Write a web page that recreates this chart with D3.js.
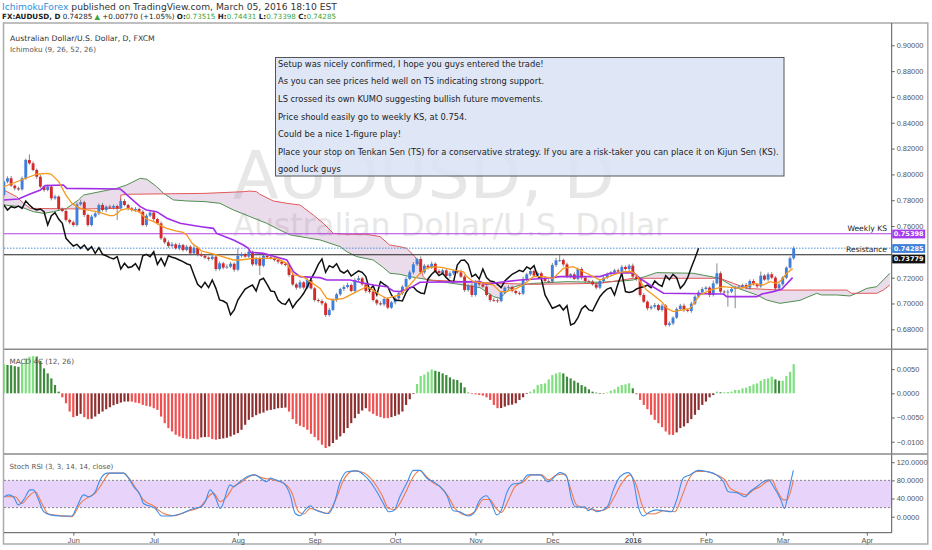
<!DOCTYPE html>
<html><head><meta charset="utf-8">
<script src="https://cdn.jsdelivr.net/npm/d3@7/dist/d3.min.js"></script>
<style>
body{margin:0;background:#fff;}
svg{display:block;}
text{font-family:"DejaVu Sans",Verdana,sans-serif;}
.ax text{font-family:"Liberation Sans",Arial,sans-serif;}
</style></head>
<body><svg id="chart" width="932" height="550"></svg>
<script>
// ---------------- DATA ----------------
const calendarStart = "2015-05-04";
const holidays = ["2015-12-25","2016-01-01"];
const firstBar = 1;
const firstOpen = 0.7840;
const closes = [
0.7944,0.7970,0.7913,0.7892,0.7884,0.7970,0.8112,0.8086,0.8034,0.7982,
0.7905,0.7879,0.7905,0.7815,0.7828,0.7732,0.7717,0.7647,0.7629,0.7608,
0.7768,0.7784,0.7686,0.7608,0.7673,0.7698,0.7763,0.7724,0.7750,0.7742,
0.7755,0.7737,0.7794,0.7763,0.7737,0.7724,0.7732,0.7711,0.7608,0.7680,
0.7704,0.7654,0.7621,0.7505,0.7474,0.7445,0.7458,0.7427,0.7453,0.7414,
0.7440,0.7388,0.7432,0.7381,0.7370,0.7355,0.7345,0.7363,0.7267,0.7311,
0.7278,0.7285,0.7308,0.7262,0.7370,0.7381,0.7363,0.7401,0.7303,0.7350,
0.7293,0.7370,0.7358,0.7350,0.7337,0.7324,0.7308,0.7298,0.7221,0.7148,
0.7123,0.7164,0.7123,0.7182,0.7117,0.7027,0.7019,0.7001,0.6911,0.6950,
0.7027,0.7071,0.7112,0.7128,0.7143,0.7097,0.7182,0.7195,0.7148,0.7097,
0.7092,0.7027,0.7001,0.6993,0.7035,0.6968,0.7009,0.7040,0.7079,0.7130,
0.7190,0.7241,0.7303,0.7345,0.7241,0.7293,0.7278,0.7308,0.7252,0.7236,
0.7257,0.7213,0.7234,0.7252,0.7241,0.7208,0.7104,0.7138,0.7066,0.7169,
0.7148,0.7130,0.7066,0.7027,0.7024,0.7019,0.7086,0.7123,0.7128,0.7097,
0.7081,0.7076,0.7190,0.7226,0.7252,0.7216,0.7234,0.7200,0.7174,0.7169,
0.7298,0.7334,0.7337,0.7303,0.7208,0.7226,0.7190,0.7267,0.7200,0.7174,
0.7169,0.7148,0.7123,0.7174,0.7200,0.7226,0.7241,0.7257,0.7247,0.7283,
0.7267,0.7293,0.7208,0.7190,0.7066,0.7014,0.6963,0.6975,0.6988,0.6950,
0.6983,0.6833,0.6846,0.6890,0.6957,0.6983,0.6950,0.6942,0.6999,0.7053,
0.7086,0.7112,0.7123,0.7066,0.7156,0.7234,0.7092,0.7086,0.7092,0.7112,
0.7123,0.7130,0.7143,0.7123,0.7174,0.7148,0.7133,0.7216,0.7185,0.7226,
0.7200,0.7117,0.7148,0.7200,0.7278,0.7350,0.74285];
const upperWickPips = [
12,15,18,10,12,14,10,43,15,12, 14,10,16,12,15,10,12,14,10,12,
15,20,12,10,14,18,12,16,10,14, 12,10,18,14,10,12,15,10,12,14,
16,12,10,14,12,15,18,12,16,10, 14,12,18,10,15,12,10,16,12,14,
12,18,14,10,57,15,12,14,10,12, 14,10,16,12,10,14,12,10,12,15,
12,16,10,14,12,10,12,14,12,16, 14,12,10,16,18,12,14,20,12,10,
12,14,10,16,12,14,10,12,15,12, 14,16,18,12,20,14,12,16,10,12,
14,10,16,12,10,22,14,12,16,10, 12,14,10,12,16,14,12,10,14,12,
10,14,18,12,16,10,14,12,10,14, 16,20,44,12,14,10,16,12,14,10,
12,14,10,16,12,14,10,12,14,16, 12,14,16,10,12,14,10,12,16,10,
14,12,16,10,12,14,16,10,14,12, 16,14,12,10,22,77,14,12,16,10,
12,14,10,16,12,14,10,31,12,14, 16,12,14,12,10,14,15];
const lowerWickPips = [
14,12,10,15,12,10,14,12,10,16, 12,14,10,16,12,14,10,12,15,14,
12,10,16,14,12,10,14,12,16,10, 14,90,12,10,16,12,14,12,10,14,
12,16,10,12,14,16,12,10,14,12, 10,14,12,16,10,12,14,10,16,12,
14,10,12,16,12,14,10,12,14,12, 72,12,14,10,12,16,12,10,14,12,
16,10,14,12,10,14,12,16,15,12, 10,14,12,16,12,10,14,12,10,16,
14,12,16,10,14,12,10,16,12,14, 12,10,14,12,16,12,14,10,12,14,
10,12,16,14,12,10,14,12,16,12, 14,10,12,16,12,14,10,12,16,12,
14,12,10,16,12,14,10,12,14,12, 10,14,12,16,12,14,10,12,14,16,
12,10,14,12,16,10,14,12,10,14, 12,16,10,14,12,10,16,12,14,10,
12,13,12,14,10,12,16,10,14,12, 10,14,12,16,12,10,14,12,110,12,
148,10,14,12,16,10,14,12,10,14, 12,16,10,14,12,10,12];

// Ichimoku lines: [bar, price]
const tenkan = [[1,0.7905],[7,0.7970],[10,0.8001],[13,0.8008],[14,0.8001],[16,0.7944],[18,0.7840],[19.6,0.7776],[21,0.7750],[22,0.7737],[24,0.7724],[26.5,0.7711],[28,0.7698],[30,0.7680],[31,0.7680],[32,0.7698],[33,0.7724],[35,0.7737],[37,0.7717],[38,0.7711],[40,0.7654],[42,0.7634],[44,0.7603],[45.5,0.7582],[48,0.7562],[50,0.7551],[51,0.7531],[52.5,0.7466],[54.5,0.7422],[55,0.7407],[59.2,0.7376],[63.8,0.7337],[65.6,0.7337],[69.2,0.7350],[75.6,0.7350],[78.4,0.7311],[80.2,0.7221],[82.9,0.7208],[84.7,0.7169],[87.5,0.7117],[89.3,0.7040],[91.1,0.7027],[93.9,0.7040],[97.5,0.7092],[100.2,0.7130],[102,0.7104],[103.9,0.7066],[105.7,0.7040],[109.3,0.7066],[112,0.7143],[114.8,0.7234],[116.6,0.7272],[118.5,0.7285],[121.2,0.7278],[123.9,0.7259],[126.7,0.7246],[127.6,0.7208],[129.4,0.7169],[133,0.7156],[134.9,0.7143],[136.7,0.7092],[138.5,0.7092],[141.2,0.7117],[143,0.7143],[145.8,0.7208],[148.5,0.7208],[151.3,0.7195],[154,0.7272],[156.7,0.7285],[159.5,0.7246],[162.2,0.7208],[164,0.7182],[167.7,0.7221],[170.4,0.7246],[172.7,0.7246],[174.1,0.7221],[175,0.7169],[176.8,0.7104],[178.6,0.7066],[180.9,0.7014],[182.3,0.6963],[184.1,0.6937],[186.8,0.6950],[188.7,0.6963],[190,0.7014],[191.4,0.7066],[194.1,0.7104],[197.8,0.7130],[202.3,0.7117],[204.2,0.7130],[206,0.7156],[208.7,0.7143],[210.5,0.7169],[212.4,0.7156],[213.7,0.7182],[215.1,0.7234],[216.7,0.7270]];
const kijun = [[1,0.7802],[5,0.7809],[8,0.7846],[11,0.7879],[12.3,0.7913],[17.3,0.7918],[18.2,0.7892],[32.8,0.7887],[33.7,0.7866],[35.5,0.7820],[38.3,0.7750],[40,0.7724],[42.8,0.7711],[45.6,0.7660],[49.2,0.7621],[52,0.7608],[55,0.7595],[58.3,0.7582],[59.2,0.7543],[63.8,0.7492],[66.5,0.7453],[67.9,0.7427],[68.5,0.7396],[72,0.7388],[78.4,0.7337],[80.2,0.7246],[82,0.7208],[87.5,0.7200],[89.3,0.7182],[95.7,0.7182],[98.4,0.7164],[102,0.7143],[105.7,0.7130],[107.5,0.7097],[109.3,0.7092],[112,0.7117],[114.8,0.7164],[131.2,0.7169],[133,0.7148],[136.7,0.7164],[142.2,0.7182],[149.4,0.7195],[153.1,0.7208],[164,0.7208],[166.8,0.7234],[173.2,0.7239],[175,0.7195],[177.7,0.7143],[181.4,0.7079],[197.8,0.7073],[198.7,0.7053],[206.9,0.7053],[208.3,0.7073],[211.4,0.7092],[213.7,0.7110],[216.7,0.7200]];
const senkouA = [[1,0.7763],[5.5,0.7750],[9.1,0.7711],[11.9,0.7698],[14.6,0.7711],[18.2,0.7737],[21.4,0.7802],[22.8,0.7840],[27.3,0.7866],[31.9,0.7892],[34.6,0.7918],[38.3,0.7970],[40.1,0.7962],[42.8,0.7905],[44.7,0.7853],[47.4,0.7802],[51,0.7794],[56,0.7789],[60.1,0.7776],[63.8,0.7724],[68.3,0.7673],[72.9,0.7621],[76.5,0.7569],[79.3,0.7531],[82,0.7518],[87.5,0.7492],[93,0.7440],[94.8,0.7401],[97.5,0.7363],[102,0.7337],[104.8,0.7278],[106.6,0.7234],[109.3,0.7226],[112,0.7208],[114.8,0.7195],[120.3,0.7169],[125.7,0.7148],[131.2,0.7123],[134.9,0.7053],[136.7,0.7040],[137.6,0.7066],[139.4,0.7117],[142.2,0.7143],[145.8,0.7156],[155,0.7169],[164,0.7164],[170,0.7174],[173.1,0.7182],[176.3,0.7208],[179.5,0.7239],[189.5,0.7234],[196.8,0.7195],[200.5,0.7130],[206.9,0.7066],[209.6,0.7027],[213.2,0.7001],[218.7,0.7024],[223.3,0.7079],[224.6,0.7066],[228.8,0.7066],[232.4,0.7058],[234.2,0.7079],[237,0.7117],[239.7,0.7130],[243.3,0.7234]];
const senkouB = [[1,0.7879],[4.5,0.7827],[6.4,0.7776],[8.2,0.7737],[21.9,0.7732],[32.8,0.7737],[33,0.7840],[35,0.7846],[56,0.7853],[66.5,0.7866],[68.3,0.7871],[70.1,0.7866],[71,0.7846],[74.7,0.7794],[78.4,0.7776],[82,0.7763],[85.6,0.7686],[88.4,0.7621],[91.1,0.7543],[94.8,0.7536],[100.2,0.7536],[103.9,0.7518],[106.5,0.7453],[109.3,0.7440],[111.2,0.7427],[113.4,0.7363],[114.8,0.7298],[115.7,0.7208],[116.6,0.7182],[127.6,0.7169],[136.7,0.7156],[145.8,0.7148],[164,0.7156],[173.1,0.7195],[196.8,0.7195],[200.5,0.7156],[204.1,0.7117],[213.2,0.7104],[231.5,0.7104],[232.8,0.7079],[239.7,0.7079],[241.5,0.7104],[243.3,0.7143]];
const chikouShift = 26;
const weeklyKS = 0.75398, resistance = 0.73779, lastPrice = 0.74285;

// MACD 4C histogram, bars 1..217
const macdHist = [
0.00600,0.00585,0.00580,0.00560,0.00548,0.00617,0.00719,0.00754,0.00767,0.00760,
0.00671,0.00514,0.00411,0.00308,0.00171,0.00034,-0.00082,-0.00206,-0.00377,-0.00493,
-0.00466,-0.00425,-0.00493,-0.00534,-0.00527,-0.00480,-0.00425,-0.00377,-0.00329,-0.00288,
-0.00247,-0.00219,-0.00192,-0.00171,-0.00170,-0.00171,-0.00192,-0.00206,-0.00240,-0.00260,
-0.00274,-0.00308,-0.00343,-0.00480,-0.00617,-0.00719,-0.00788,-0.00856,-0.00891,-0.00925,
-0.00938,-0.00945,-0.00945,-0.00952,-0.00911,-0.00904,-0.00904,-0.00945,-0.00959,-0.00945,
-0.00932,-0.00918,-0.00891,-0.00856,-0.00822,-0.00754,-0.00651,-0.00548,-0.00493,-0.00452,
-0.00418,-0.00397,-0.00356,-0.00343,-0.00329,-0.00308,-0.00301,-0.00295,-0.00377,-0.00534,
-0.00630,-0.00671,-0.00699,-0.00754,-0.00836,-0.00904,-0.00973,-0.01062,-0.01130,-0.01096,
-0.01028,-0.00959,-0.00891,-0.00822,-0.00719,-0.00617,-0.00514,-0.00425,-0.00356,-0.00308,
-0.00377,-0.00425,-0.00466,-0.00493,-0.00514,-0.00514,-0.00493,-0.00466,-0.00438,-0.00377,
-0.00240,-0.00123,-0.00014,0.00192,0.00356,0.00390,0.00445,0.00493,0.00466,0.00445,
0.00411,0.00377,0.00329,0.00288,0.00274,0.00219,0.00123,0.00014,-0.00014,-0.00021,
-0.00034,-0.00048,-0.00082,-0.00137,-0.00240,-0.00308,-0.00305,-0.00274,-0.00247,-0.00233,
-0.00206,-0.00137,-0.00082,-0.00014,0.00034,0.00082,0.00171,0.00192,0.00206,0.00288,
0.00377,0.00411,0.00432,0.00411,0.00343,0.00308,0.00260,0.00219,0.00171,0.00137,
0.00082,0.00034,0.00014,0.00004,-0.00003,0.00014,0.00055,0.00082,0.00137,0.00171,
0.00185,0.00206,0.00103,-0.00020,-0.00137,-0.00240,-0.00329,-0.00445,-0.00548,-0.00617,
-0.00699,-0.00788,-0.00856,-0.00860,-0.00808,-0.00719,-0.00685,-0.00617,-0.00534,-0.00445,
-0.00343,-0.00240,-0.00171,-0.00082,-0.00034,0.00034,0.00021,0.00021,0.00027,0.00034,
0.00069,0.00070,0.00103,0.00116,0.00151,0.00185,0.00206,0.00260,0.00295,0.00308,
0.00343,0.00288,0.00260,0.00260,0.00356,0.00445,0.00603];

// Stoch RSI: [bar, value]
const stochK = [[1.1,44],[2.3,48],[3.6,44],[5,26],[6.4,37],[8.2,59],[9.1,59],[10.5,37],[11.9,11],[13.7,4],[16.4,1.5],[19.6,1.5],[21,22],[22.8,48],[24.2,44],[26,55],[27.3,81],[29.2,96],[33.7,96],[35.1,85],[36.5,66],[38.3,48],[39.2,29],[40.6,24],[42.4,18],[44.2,1.5],[46.5,1.5],[49.2,6],[52.9,18],[54.7,21],[56.1,33],[57.4,59],[58.8,44],[60.2,18],[62.9,70],[63.8,66],[65.6,77],[67.5,88],[69.7,92],[71.1,85],[72.9,77],[73.8,85],[75.7,80],[77.5,74],[79.3,48],[80.7,7],[82,2],[83.4,15],[84.8,24],[86.1,15],[87.5,11],[89.8,7],[91.2,26],[93,77],[94.8,99],[97.6,101],[99.4,92],[101.2,77],[103,55],[104.8,29],[106.2,11],[107.6,13],[109.3,44],[111.2,74],[113,102],[114.8,102],[116.6,85],[118.5,77],[120.3,66],[122.1,48],[123.9,13],[125.7,11],[128,1.5],[129.4,7],[131.2,37],[133,46],[134.4,29],[135.8,4],[137.1,15],[138.5,52],[140.3,72],[142.2,74],[144.4,92],[147.6,92],[149.9,77],[153.1,97],[154.9,88],[156.3,37],[157.2,22],[159,21],[159.9,22],[160.8,13],[161.8,18],[163.1,11],[164.9,15],[166.3,26],[167.7,59],[169.5,88],[171.8,97],[173.1,81],[174.5,22],[175.9,1.5],[177.7,11],[179.5,15],[181.4,13],[183.6,11],[185,37],[186.8,85],[188.6,92],[190.9,102],[193.2,99.5],[195.9,92],[197.8,77],[199.1,55],[201.4,53],[203.7,44],[205,55],[206.9,66],[208.7,77],[210.1,81],[211.5,66],[213.5,37],[214.5,18],[215.5,52],[216.9,102]];
const stochD = [[1.1,44],[2.3,44],[4.1,44],[5.9,29],[7.7,44],[9.6,55],[11.4,29],[13.2,6],[16.4,2.2],[19.6,0],[21.9,29],[23.7,41],[26,52],[27.3,66],[30.1,96],[33.7,96],[35.6,81],[37.4,59],[39.2,37],[41.9,24],[44.7,7],[47.4,2.2],[51,11],[54.7,22],[58.3,52],[60.2,33],[62,44],[63.8,66],[65.6,74],[69.3,92],[72,85],[74.7,81],[77.5,74],[79.8,52],[81.6,11],[83,6],[84.8,18],[86.1,16],[89.3,7],[92.1,44],[93.9,81],[96.7,101],[99.4,97],[102.1,77],[104.4,48],[106.2,18],[108,16],[109.3,29],[111.2,59],[113,88],[114.8,101.7],[116.6,88],[118.5,74],[120.3,66],[122.6,44],[124.4,18],[127.6,3.7],[129.8,11],[132.1,38],[133.9,38],[135.3,22],[137.1,9.6],[139,37],[140.8,66],[143.1,77],[145.4,92],[148.1,92],[149.9,81],[152.2,92],[154.5,94],[155.8,66],[157.6,26],[160.4,18],[162.2,15],[164,13],[165.9,18],[167.7,40],[170,74],[172.2,92],[174.1,66],[175.4,29],[176.8,7],[178.6,6],[181.4,13],[184.5,11],[186.4,44],[188.2,81],[190.5,99.5],[192.8,99.5],[195.9,92],[198.2,81],[199.6,63],[201.4,55],[204.1,48],[206,59],[207.8,66],[209.6,77],[211,81],[212.4,59],[214.2,37],[215.1,37],[216.9,80]];

const priceTicks = [0.68,0.70,0.72,0.76,0.78,0.80,0.82,0.84,0.86,0.88,0.90];
const macdTicks = [-0.01,-0.005,0,0.005];
const stochTicks = [0,40,80,120];
const stochBands = [20,80];
const monthNames = ["Jan","Feb","Mar","Apr","May","Jun","Jul","Aug","Sep","Oct","Nov","Dec"];
const notes = [
"Setup was nicely confirmed, I hope you guys entered the trade!",
"As you can see prices held well on TS indicating strong support.",
"LS crossed its own KUMO suggesting bullish future movements.",
"Price should easily go to weekly KS, at 0.754.",
"Could be a nice 1-figure play!",
"Place your stop on Tenkan Sen (TS) for a conservative strategy. If you are a risk-taker you can place it on Kijun Sen (KS).",
"good luck guys"];

// ---------------- LAYOUT ----------------
const svg = d3.select("#chart");
const L = 4, R = 891.7, TOP = 23, MAIN_B = 349.3, MACD_B = 454, ST_B = 532.7;

// trading calendar
const days = [];
{ let d = new Date(calendarStart + "T12:00:00");
  while (days.length < 260) {
    const wd = d.getDay(); const key = d3.timeFormat("%Y-%m-%d")(d);
    if (wd !== 0 && wd !== 6 && !holidays.includes(key)) days.push(new Date(d));
    d.setDate(d.getDate() + 1);
  } }

const x = d3.scaleLinear().domain([1.05, 243.8]).range([L, R]);
const yP = d3.scaleLinear().domain([0.68, 0.90]).range([329.3, 45.3]);
const yM = d3.scaleLinear().domain([-0.01, 0.005]).range([441.7, 369.1]);
const yS = d3.scaleLinear().domain([0, 120]).range([516.7, 462.2]);

const defs = svg.append("defs");
function clip(id, y0, y1){ defs.append("clipPath").attr("id", id).append("rect").attr("x", L).attr("y", y0).attr("width", R - L).attr("height", y1 - y0); }
clip("cMain", TOP, MAIN_B); clip("cMacd", MAIN_B, MACD_B); clip("cSt", MACD_B, ST_B);

// header
const h1 = svg.append("text").attr("x", 2).attr("y", 9.5).attr("font-size", 10);
h1.append("tspan").attr("fill", "#2a8fe0").text("IchimokuForex");
h1.append("tspan").attr("fill", "#333").text(" published on TradingView.com, March 05, 2016 18:10 EST");
const h2 = svg.append("text").attr("x", 2).attr("y", 18.8).attr("font-size", 10).attr("fill", "#222");
const g = "#3aa53a";
[["FX:AUDUSD, D", "#222", "bold"], [" 0.74285 ", "#222", "normal"], ["\u25B2", g, "normal"], [" +0.00770 (+1.05%) ", "#222", "normal"],
 ["O:", "#222", "bold"], ["0.73515", g, "normal"], [" H:", "#222", "bold"], ["0.74431", g, "normal"],
 [" L:", "#222", "bold"], ["0.73398", g, "normal"], [" C:", "#222", "bold"], ["0.74285", g, "normal"]]
 .forEach(([t, c, w]) => h2.append("tspan").attr("fill", c).attr("font-weight", w).text(t));
function fit(sel, width){ const w = sel.node().getComputedTextLength(); const fs = parseFloat(sel.attr("font-size")); sel.attr("font-size", (fs * width / w).toFixed(2)); }
fit(h1, 335); fit(h2, 334);

// frame
svg.append("rect").attr("x", 3.5).attr("y", 23).attr("width", 924.3).attr("height", 521).attr("fill", "none").attr("stroke", "#ababab").attr("stroke-width", 1.5);

// watermark
const wm1 = svg.append("text").attr("x", 233).attr("y", 198).attr("font-size", 70).attr("fill", "#e7e7e7").attr("font-family", "Liberation Sans, Arial").text("AUDUSD, D");
fit(wm1, 382);
const wm2 = svg.append("text").attr("x", 233).attr("y", 236).attr("font-size", 35).attr("fill", "#e7e7e7").attr("font-family", "Liberation Sans, Arial").text("Australian Dollar/U.S. Dollar");
fit(wm2, 435);

// ---------------- MAIN PANE ----------------
const main = svg.append("g").attr("clip-path", "url(#cMain)");
const lineP = d3.line().x(d => x(d[0])).y(d => yP(d[1]));
// cloud
const cloudPoly = senkouA.concat(senkouB.slice().reverse());
main.append("path").attr("d", lineP(cloudPoly) + "Z").attr("fill", "rgba(178,118,178,0.26)").attr("stroke", "none");
main.append("path").attr("d", lineP(senkouA)).attr("fill", "none").attr("stroke", "#4f8f4f").attr("stroke-width", 1);
main.append("path").attr("d", lineP(senkouB)).attr("fill", "none").attr("stroke", "#e05a5a").attr("stroke-width", 1);

// horizontal levels
main.append("line").attr("x1", L).attr("x2", R).attr("y1", yP(weeklyKS)).attr("y2", yP(weeklyKS)).attr("stroke", "#b13fe6").attr("stroke-width", 1.1);
main.append("line").attr("x1", L).attr("x2", R).attr("y1", yP(lastPrice)).attr("y2", yP(lastPrice)).attr("stroke", "#4d8fdc").attr("stroke-width", 1).attr("stroke-dasharray", "1.5,1.5");
main.append("line").attr("x1", L).attr("x2", R).attr("y1", yP(resistance)).attr("y2", yP(resistance)).attr("stroke", "#222").attr("stroke-width", 1.1);
svg.append("text").attr("x", 887).attr("y", yP(weeklyKS) - 2.5).attr("text-anchor", "end").attr("font-size", 7.6).attr("fill", "#222").text("Weekly KS");
svg.append("text").attr("x", 887).attr("y", yP(resistance) - 2.3).attr("text-anchor", "end").attr("font-size", 7.6).attr("fill", "#222").text("Resistance");

// candles
const bars = closes.map((c, k) => {
  const o = k === 0 ? firstOpen : closes[k - 1];
  return { i: k + firstBar, o, c, hi: Math.max(o, c) + upperWickPips[k] * 1e-4, lo: Math.min(o, c) - lowerWickPips[k] * 1e-4 };
});
const cg = main.append("g");
cg.selectAll("line.w").data(bars).join("line").attr("class", "w")
  .attr("x1", d => x(d.i)).attr("x2", d => x(d.i)).attr("y1", d => yP(d.hi)).attr("y2", d => yP(d.lo))
  .attr("stroke", "#6a6a6a").attr("stroke-width", 0.8);
cg.selectAll("rect").data(bars).join("rect")
  .attr("x", d => x(d.i) - 1.45).attr("width", 2.9)
  .attr("y", d => yP(Math.max(d.o, d.c))).attr("height", d => Math.max(0.8, Math.abs(yP(d.o) - yP(d.c))))
  .attr("fill", d => d.c >= d.o ? "#3f7fd9" : "#d42a2a");

// chikou, kijun, tenkan
const chikou = closes.map((c, k) => [k + firstBar - chikouShift, c]).filter(d => d[0] >= 0);
main.append("path").attr("d", lineP(chikou)).attr("fill", "none").attr("stroke", "#111").attr("stroke-width", 1.5);
main.append("path").attr("d", lineP(kijun)).attr("fill", "none").attr("stroke", "#a32ee8").attr("stroke-width", 1.6);
main.append("path").attr("d", lineP(tenkan)).attr("fill", "none").attr("stroke", "#f7981e").attr("stroke-width", 1.3);

// titles
const t1 = svg.append("text").attr("x", 10).attr("y", 40.7).attr("font-size", 9).attr("fill", "#333").text("Australian Dollar/U.S. Dollar, D, FXCM");
fit(t1, 145);
const t2 = svg.append("text").attr("x", 10).attr("y", 51.5).attr("font-size", 9).attr("fill", "#555").text("Ichimoku (9, 26, 52, 26)");
fit(t2, 86);

// annotation box
svg.append("rect").attr("x", 275.5).attr("y", 57.5).attr("width", 508.5).attr("height", 118.5)
  .attr("fill", "#d9e3f6").attr("fill-opacity", 0.85).attr("stroke", "#555").attr("stroke-width", 1);
const noteTexts = notes.map((t, k) => svg.append("text").attr("x", 278).attr("y", 66.8 + k * 17.6).attr("font-size", 9).attr("fill", "#222").text(t));
{ const w = noteTexts[5].node().getComputedTextLength(); const fs = 9 * 501 / w; noteTexts.forEach(t => t.attr("font-size", fs.toFixed(2))); }

// ---------------- MACD ----------------
const mg = svg.append("g").attr("clip-path", "url(#cMacd)");
const mbars = macdHist.map((v, k) => ({ i: k + firstBar, v, prev: k ? macdHist[k - 1] : v }));
function mcol(d){ if (d.v >= 0) return d.v >= d.prev ? "#7fe07f" : "#3d8a3d"; return d.v <= d.prev ? "#ef5050" : "#8e3030"; }
mg.selectAll("rect").data(mbars).join("rect")
  .attr("x", d => x(d.i) - 1.1).attr("width", 2.2)
  .attr("y", d => Math.min(yM(d.v), yM(0))).attr("height", d => Math.max(0.6, Math.abs(yM(d.v) - yM(0))))
  .attr("fill", mcol);
const mt = svg.append("text").attr("x", 9.5).attr("y", 364).attr("font-size", 9).attr("fill", "#555").text("MACD 4C (12, 26)");
fit(mt, 64.5);

// ---------------- STOCH RSI ----------------
const sg = svg.append("g").attr("clip-path", "url(#cSt)");
sg.append("rect").attr("x", L).attr("width", R - L).attr("y", yS(stochBands[1])).attr("height", yS(stochBands[0]) - yS(stochBands[1])).attr("fill", "#e8d3fb");
stochBands.forEach(b => sg.append("line").attr("x1", L).attr("x2", R).attr("y1", yS(b)).attr("y2", yS(b)).attr("stroke", "#777").attr("stroke-dasharray", "2,2").attr("stroke-width", 0.9));
const lineS = d3.line().x(d => x(d[0])).y(d => yS(d[1])).curve(d3.curveMonotoneX);
sg.append("path").attr("d", lineS(stochD)).attr("fill", "none").attr("stroke", "#ef7a4a").attr("stroke-width", 1.1);
sg.append("path").attr("d", lineS(stochK)).attr("fill", "none").attr("stroke", "#3f8ee8").attr("stroke-width", 1.1);
const st = svg.append("text").attr("x", 9.5).attr("y", 468.8).attr("font-size", 9).attr("fill", "#555").text("Stoch RSI (3, 3, 14, 14, close)");
fit(st, 104);

// ---------------- AXES ----------------
function styleAxis(sel){ sel.attr("class", "ax"); sel.select(".domain").remove(); sel.selectAll("line").attr("stroke", "#666"); sel.selectAll("text").attr("fill", "#555").attr("font-size", 7.4); }
svg.append("g").attr("transform", `translate(${R},0)`).call(d3.axisRight(yP).tickValues(priceTicks).tickSize(3).tickPadding(2).tickFormat(d3.format(".5f"))).call(styleAxis);
svg.append("g").attr("transform", `translate(${R},0)`).call(d3.axisRight(yM).tickValues(macdTicks).tickSize(3).tickPadding(2).tickFormat(d3.format(".4f"))).call(styleAxis);
svg.append("g").attr("transform", `translate(${R},0)`).call(d3.axisRight(yS).tickValues(stochTicks).tickSize(3).tickPadding(2).tickFormat(d3.format(".4f"))).call(styleAxis);

const monthTicks = [];
days.forEach((d, i) => { if (i > 0 && d.getMonth() !== days[i - 1].getMonth() && i >= x.domain()[0] && i <= x.domain()[1]) monthTicks.push(i); });
const xa = svg.append("g").attr("transform", `translate(0,${ST_B})`)
  .call(d3.axisBottom(x).tickValues(monthTicks).tickSize(3).tickPadding(2)
    .tickFormat(i => days[i].getMonth() === 0 ? String(days[i].getFullYear()) : monthNames[days[i].getMonth()]))
  .call(styleAxis);
xa.selectAll("text").attr("font-weight", i => days[i].getMonth() === 0 ? "bold" : "normal");

// pane lines
svg.append("line").attr("x1", R).attr("x2", R).attr("y1", TOP).attr("y2", ST_B).attr("stroke", "#555").attr("stroke-width", 1);
svg.append("line").attr("x1", L).attr("x2", R).attr("y1", ST_B).attr("y2", ST_B).attr("stroke", "#555").attr("stroke-width", 1);
[MAIN_B, MACD_B].forEach(yv => svg.append("line").attr("x1", L).attr("x2", 927.5).attr("y1", yv).attr("y2", yv).attr("stroke", "#8a8a8a").attr("stroke-width", 1.6));

// price labels on axis
[[weeklyKS, "#a63ded", 234], [lastPrice, "#3f7fd9", 248.5], [resistance, "#111", 259]].forEach(([v, col, yc]) => {
  svg.append("rect").attr("x", R + 0.5).attr("y", yc - 4.4).attr("width", 33).attr("height", 8.8).attr("fill", col);
  const t = svg.append("text").attr("class", "ax").attr("x", R + 17).attr("y", yc).attr("dy", "0.35em").attr("text-anchor", "middle")
    .attr("font-size", 7.4).attr("font-weight", "bold").attr("fill", "#fff").text(d3.format(".5f")(v));
  if (t.node().getComputedTextLength() > 30) fit(t, 30);
});
</script></body></html>
